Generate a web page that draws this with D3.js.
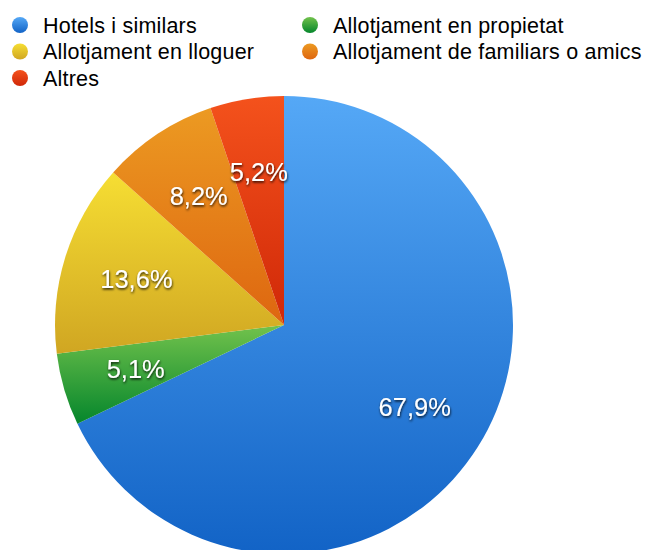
<!DOCTYPE html>
<html>
<head>
<meta charset="utf-8">
<script src="https://cdn.jsdelivr.net/npm/d3@7"></script>
<style>
  html, body { margin: 0; padding: 0; background: #fff; }
  svg { display: block; font-family: "Liberation Sans", Arial, Helvetica, sans-serif; }
</style>
</head>
<body>
<svg id="chart" width="645" height="550"></svg>
<script>
// Accommodation type shares (%)
const categories = [
  "Hotels i similars",
  "Allotjament en propietat",
  "Allotjament en lloguer",
  "Allotjament de familiars o amics",
  "Altres"
];
const values = [67.9, 5.1, 13.6, 8.2, 5.2];
const valueLabels = ["67,9%", "5,1%", "13,6%", "8,2%", "5,2%"];
// light (top) and dark (bottom) tones for each slice
const colorsTop = ["#55a8f6", "#72c24c", "#f6de33", "#ec9a22", "#f4521c"];
const colorsBottom = ["#1263c6", "#05862c", "#d0a622", "#de6610", "#d02808"];
// legend order: two columns, row-wise
const legendOrder = [0, 1, 2, 3, 4];

const svg = d3.select("#chart");
const defs = svg.append("defs");

categories.forEach((c, i) => {
  const g = defs.append("linearGradient")
    .attr("id", "grad" + i)
    .attr("x1", 0).attr("y1", 0).attr("x2", 0).attr("y2", 1);
  g.append("stop").attr("offset", "0%").attr("stop-color", colorsTop[i]);
  g.append("stop").attr("offset", "100%").attr("stop-color", colorsBottom[i]);
});

const shadow = defs.append("filter").attr("id", "txtShadow")
  .attr("x", "-20%").attr("y", "-30%").attr("width", "140%").attr("height", "160%");
shadow.append("feDropShadow")
  .attr("dx", 0.5).attr("dy", 1.5).attr("stdDeviation", 1.2)
  .attr("flood-color", "#000").attr("flood-opacity", 0.85);

// Pie
const cx = 284, cy = 325, r = 229;
const pie = d3.pie().sort(null).value(d => d.v);
const data = pie(values.map((v, i) => ({ v, i })));
const arc = d3.arc().innerRadius(0).outerRadius(r);
const labelArc = d3.arc().innerRadius(r * 0.675).outerRadius(r * 0.675);

const gPie = svg.append("g").attr("transform", `translate(${cx},${cy})`);
gPie.selectAll("path.slice")
  .data(data)
  .join("path")
  .attr("class", "slice")
  .attr("d", arc)
  .attr("fill", d => `url(#grad${d.data.i})`);

gPie.selectAll("text.val")
  .data(data)
  .join("text")
  .attr("class", "val")
  .attr("transform", d => `translate(${labelArc.centroid(d)})`)
  .attr("text-anchor", "middle")
  .attr("dominant-baseline", "central")
  .attr("font-size", 25.5)
  .attr("fill", "#fff")
  .attr("filter", "url(#txtShadow)")
  .text(d => valueLabels[d.data.i]);

// Legend
const colX = [20, 310];
const rowY = [25, 51.5, 78];
const gLeg = svg.append("g");
legendOrder.forEach((idx, k) => {
  const x = colX[k % 2], y = rowY[Math.floor(k / 2)];
  const item = gLeg.append("g").attr("transform", `translate(${x},${y})`);
  item.append("circle").attr("r", 8).attr("fill", `url(#grad${idx})`);
  item.append("text")
    .attr("x", 23)
    .attr("dy", "0.35em")
    .attr("font-size", 21.5)
    .attr("letter-spacing", 0.2)
    .attr("fill", "#000")
    .text(categories[idx]);
});
</script>
</body>
</html>
